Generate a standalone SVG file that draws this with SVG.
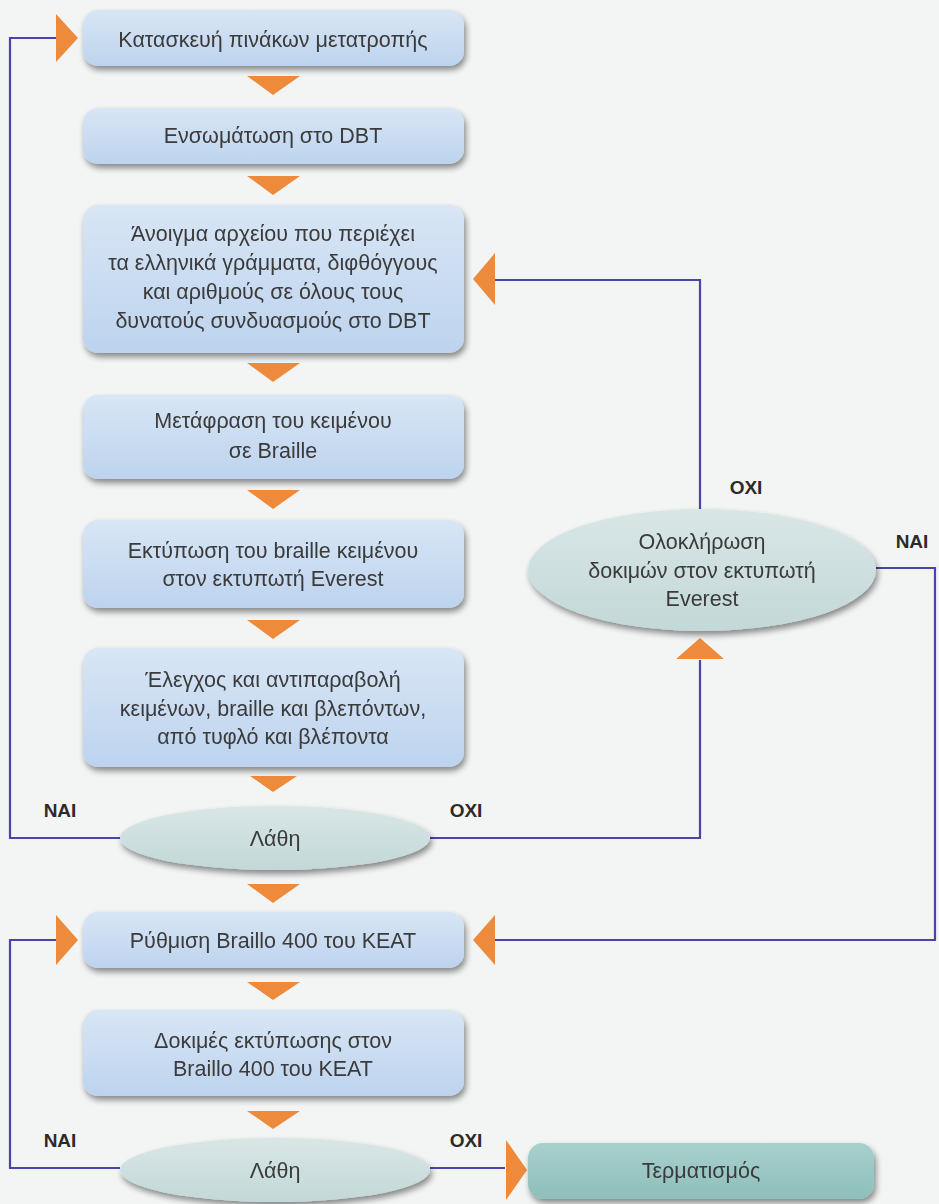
<svg xmlns="http://www.w3.org/2000/svg" width="939" height="1204" viewBox="0 0 939 1204">
<defs>
<style>
.box{fill:url(#gb);}
.ell{fill:url(#ge);}
.end{fill:url(#gt);}
.t{font-family:"Liberation Sans",Arial,sans-serif;font-size:21.5px;fill:#3a3a3a;text-anchor:middle;}
.lb{font-family:"Liberation Sans",Arial,sans-serif;font-size:19px;font-weight:bold;fill:#2b2b2b;text-anchor:middle;}
.ln{fill:none;stroke:#4a44a8;stroke-width:2.2;}
.ar{fill:#ee8a3c;}
</style>
<linearGradient id="gb" x1="0" y1="0" x2="0" y2="1">
<stop offset="0" stop-color="#d8e6f5"/>
<stop offset="1" stop-color="#bdd3ee"/>
</linearGradient>
<linearGradient id="ge" x1="0" y1="0" x2="0" y2="1">
<stop offset="0" stop-color="#d9e6e6"/>
<stop offset="1" stop-color="#c3d8d8"/>
</linearGradient>
<linearGradient id="gt" x1="0" y1="0" x2="0" y2="1">
<stop offset="0" stop-color="#a9d0cd"/>
<stop offset="1" stop-color="#8dbfbb"/>
</linearGradient>
<filter id="sh" x="-10%" y="-20%" width="125%" height="150%">
<feGaussianBlur in="SourceAlpha" stdDeviation="3"/>
<feOffset dx="2" dy="4" result="b"/>
<feComponentTransfer><feFuncA type="linear" slope="0.45"/></feComponentTransfer>
<feMerge><feMergeNode/><feMergeNode in="SourceGraphic"/></feMerge>
</filter>
</defs>
<rect width="939" height="1204" fill="#f3f4f4"/>

<g id="connectors">
<polyline class="ln" points="120,838 10,838 10,38 58,38"/>
<polyline class="ln" points="430,838 700,838 700,660"/>
<polyline class="ln" points="700,510 700,280 495,280"/>
<polyline class="ln" points="876,568 935,568 935,940 495,940"/>
<polyline class="ln" points="120,1168 10,1168 10,940 58,940"/>
<polyline class="ln" points="430,1168 505,1168"/>
<polygon class="ar" points="247,76 300,76 273,95"/>
<polygon class="ar" points="247,176 300,176 273,195"/>
<polygon class="ar" points="247,363 300,363 273,382"/>
<polygon class="ar" points="247,490 300,490 273,509"/>
<polygon class="ar" points="247,620 300,620 273,639"/>
<polygon class="ar" points="250,776 297,776 273,792"/>
<polygon class="ar" points="247,884 300,884 273,903"/>
<polygon class="ar" points="247,982 300,982 273,1000"/>
<polygon class="ar" points="247,1111 300,1111 273,1129"/>
<polygon class="ar" points="56,14 78,38 56,62"/>
<polygon class="ar" points="56,915 78,940 56,965"/>
<polygon class="ar" points="495,253 473,279 495,305"/>
<polygon class="ar" points="495,915 473,940 495,965"/>
<polygon class="ar" points="676,659 724,659 700,638"/>
<polygon class="ar" points="506,1140 527,1170 506,1200"/>
<text class="lb" x="60" y="817">NAI</text>
<text class="lb" x="466" y="817">OXI</text>
<text class="lb" x="746" y="494">OXI</text>
<text class="lb" x="912" y="548">NAI</text>
<text class="lb" x="60" y="1147">NAI</text>
<text class="lb" x="466" y="1147">OXI</text>
</g>

<g id="n1" filter="url(#sh)"><rect class="box" x="83" y="10" width="381" height="56" rx="15"/>
<text class="t" x="273" y="47">Κατασκευή πινάκων μετατροπής</text></g>

<g id="n2" filter="url(#sh)"><rect class="box" x="83" y="108" width="381" height="56" rx="15"/>
<text class="t" x="273" y="143">Ενσωμάτωση στο DBT</text></g>

<g id="n3" filter="url(#sh)"><rect class="box" x="83" y="205" width="381" height="148" rx="15"/>
<text class="t" x="273" y="241">Άνοιγμα αρχείου που περιέχει</text>
<text class="t" x="273" y="270">τα ελληνικά γράμματα, διφθόγγους</text>
<text class="t" x="273" y="299">και αριθμούς σε όλους τους</text>
<text class="t" x="273" y="328">δυνατούς συνδυασμούς στο DBT</text></g>

<g id="n4" filter="url(#sh)"><rect class="box" x="83" y="395" width="381" height="84" rx="15"/>
<text class="t" x="273" y="428">Μετάφραση του κειμένου</text>
<text class="t" x="273" y="458">σε Braille</text></g>

<g id="n5" filter="url(#sh)"><rect class="box" x="83" y="520" width="381" height="88" rx="15"/>
<text class="t" x="273" y="558">Εκτύπωση του braille κειμένου</text>
<text class="t" x="273" y="586">στον εκτυπωτή Everest</text></g>

<g id="n6" filter="url(#sh)"><rect class="box" x="83" y="648" width="381" height="119" rx="15"/>
<text class="t" x="273" y="687">Έλεγχος και αντιπαραβολή</text>
<text class="t" x="273" y="716">κειμένων, braille και βλεπόντων,</text>
<text class="t" x="273" y="744">από τυφλό και βλέποντα</text></g>

<g id="n7" filter="url(#sh)"><ellipse class="ell" cx="275" cy="838" rx="155" ry="32"/>
<text class="t" x="275" y="846">Λάθη</text></g>

<g id="n8" filter="url(#sh)"><ellipse class="ell" cx="702" cy="570" rx="174" ry="61"/>
<text class="t" x="702" y="549">Ολοκλήρωση</text>
<text class="t" x="702" y="578">δοκιμών στον εκτυπωτή</text>
<text class="t" x="702" y="606">Everest</text></g>

<g id="n9" filter="url(#sh)"><rect class="box" x="83" y="912" width="381" height="56" rx="15"/>
<text class="t" x="273" y="948">Ρύθμιση Braillo 400 του ΚΕΑΤ</text></g>

<g id="n10" filter="url(#sh)"><rect class="box" x="83" y="1010" width="381" height="86" rx="15"/>
<text class="t" x="273" y="1048">Δοκιμές εκτύπωσης στον</text>
<text class="t" x="273" y="1076">Braillo 400 του ΚΕΑΤ</text></g>

<g id="n11" filter="url(#sh)"><ellipse class="ell" cx="275" cy="1170" rx="155" ry="32"/>
<text class="t" x="275" y="1178">Λάθη</text></g>

<g id="n12" filter="url(#sh)"><rect class="end" x="528" y="1143" width="346" height="56" rx="15"/>
<text class="t" x="701" y="1178">Τερματισμός</text></g>
</svg>
